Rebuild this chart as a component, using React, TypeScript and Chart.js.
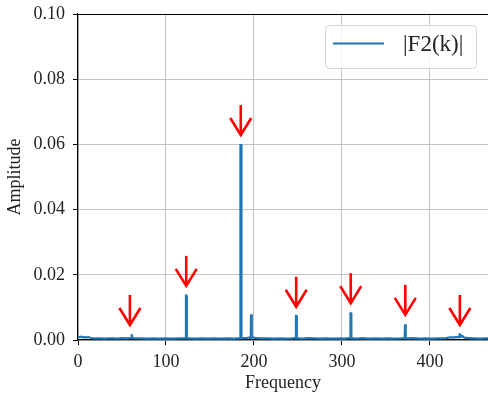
import React, { useEffect, useRef } from "react";
import { Chart, registerables } from "chart.js";

Chart.register(...registerables);

const freq: number[] = [
  0, 2, 4, 6, 8, 10, 12, 14, 16, 20, 25, 30, 35, 40, 45, 50, 55, 59,
  60.3, 60.7, 61.3, 61.7,
  63, 67, 72, 78, 85, 92, 100, 108, 115, 121,
  122.3, 122.7, 123.3, 123.7,
  126, 132, 140, 148, 155, 162, 170, 177, 182,
  184.2, 184.5, 184.8, 185.4, 185.8,
  188, 192, 195,
  196.3, 196.7, 197.3, 197.7,
  199, 203, 208, 215, 222, 230, 237, 243, 246,
  247.3, 247.7, 248.3, 248.7,
  250, 255, 262, 268, 275, 282, 290, 297, 304, 308,
  309.3, 309.7, 310.3, 310.7,
  312, 317, 323, 330, 338, 345, 352, 360, 367, 370,
  371.3, 371.7, 372.3, 372.7,
  374, 380, 388, 395, 402, 410, 418, 423, 427, 431,
  433.3, 433.7, 434.3, 434.7,
  437, 439, 444, 450, 457, 462, 466,
];
const amplitude: number[] = [
  0.001, 0.0009, 0.001, 0.0008, 0.0009, 0.0008, 0.0009, 0.0007, 0.0006, 0.0005, 0.0005, 0.0004, 0.0005, 0.0005, 0.0004,
  0.0006, 0.0005, 0.0006,
  0.0006, 0.0018, 0.0018, 0.0007,
  0.0006, 0.0005, 0.0005, 0.0004, 0.0005, 0.0004, 0.0005, 0.0004, 0.0005, 0.0005,
  0.0005, 0.0136, 0.0136, 0.0005,
  0.0005, 0.0004, 0.0005, 0.0004, 0.0005, 0.0004, 0.0005, 0.0004, 0.0005,
  0.0005, 0.046, 0.0598, 0.0598, 0.0006,
  0.0006, 0.0006, 0.0008,
  0.0006, 0.0079, 0.0079, 0.0007,
  0.0007, 0.0006, 0.0005, 0.0005, 0.0004, 0.0005, 0.0004, 0.0005, 0.0006,
  0.0005, 0.0074, 0.0074, 0.0005,
  0.0005, 0.0004, 0.0006, 0.0005, 0.0004, 0.0005, 0.0004, 0.0005, 0.0004, 0.0006,
  0.0005, 0.0082, 0.0082, 0.0005,
  0.0005, 0.0004, 0.0006, 0.0004, 0.0005, 0.0004, 0.0005, 0.0004, 0.0005, 0.0006,
  0.0005, 0.0048, 0.0048, 0.0005,
  0.0005, 0.0006, 0.0004, 0.0005, 0.0004, 0.0005, 0.0006, 0.0008, 0.0008, 0.0009,
  0.0009, 0.0017, 0.0017, 0.001,
  0.0012, 0.0007, 0.0006, 0.0005, 0.0004, 0.0005, 0.0005,
];

const arrowFreq: number[] = [59, 123, 185, 248, 310, 372, 434];
const arrowTip: number[] = [0.0046, 0.0166, 0.0629, 0.0102, 0.0113, 0.0077, 0.0046];

const seriesLabel = "|F2(k)|";
const xTitle = "Frequency";
const yTitle = "Amplitude";

const FONT = "'Liberation Serif', 'Times New Roman', serif";

const noPad = (s: any) => {
  s.paddingLeft = 0;
  s.paddingRight = 0;
  s.paddingTop = 0;
  s.paddingBottom = 0;
};

export default function App() {
  const ref = useRef<HTMLCanvasElement | null>(null);

  useEffect(() => {
    if (!ref.current) return;

    const frame = {
      id: "frame",
      afterDraw(chart: any) {
        const { ctx, chartArea } = chart;
        ctx.save();
        ctx.strokeStyle = "#000";
        ctx.lineWidth = 1.2;
        ctx.beginPath();
        ctx.moveTo(chartArea.left, chartArea.top + 0.5);
        ctx.lineTo(chartArea.right, chartArea.top + 0.5);
        ctx.stroke();
        ctx.restore();
      },
    };

    const arrows = {
      id: "arrows",
      afterDatasetsDraw(chart: any) {
        const { ctx, scales } = chart;
        ctx.save();
        ctx.strokeStyle = "#ff0000";
        ctx.lineWidth = 2.6;
        ctx.lineCap = "butt";
        ctx.lineJoin = "miter";
        arrowFreq.forEach((f, i) => {
          const x = scales.x.getPixelForValue(f);
          const y = scales.y.getPixelForValue(arrowTip[i]);
          ctx.beginPath();
          ctx.moveTo(x, y - 30);
          ctx.lineTo(x, y - 1);
          ctx.stroke();
          ctx.beginPath();
          ctx.moveTo(x - 10.5, y - 17);
          ctx.lineTo(x, y);
          ctx.lineTo(x + 10.5, y - 17);
          ctx.stroke();
        });
        ctx.restore();
      },
    };

    const legendBox = {
      id: "legendBox",
      afterDraw(chart: any) {
        const { ctx } = chart;
        const x0 = 325, y0 = 25, w = 151, h = 43, r = 4;
        ctx.save();
        ctx.fillStyle = "rgba(255,255,255,0.85)";
        ctx.strokeStyle = "#d6d6d6";
        ctx.lineWidth = 1;
        ctx.beginPath();
        ctx.roundRect(x0 + 0.5, y0 + 0.5, w, h, r);
        ctx.fill();
        ctx.stroke();
        ctx.strokeStyle = "#1f77b4";
        ctx.lineWidth = 2;
        ctx.beginPath();
        ctx.moveTo(333, 43.5);
        ctx.lineTo(384, 43.5);
        ctx.stroke();
        ctx.fillStyle = "#222";
        ctx.font = `23px ${FONT}`;
        ctx.textBaseline = "middle";
        ctx.textAlign = "left";
        ctx.fillText(seriesLabel, 403, 45);
        ctx.restore();
      },
    };

    const chart = new Chart(ref.current, {
      type: "line",
      data: {
        datasets: [
          {
            label: seriesLabel,
            data: freq.map((f, i) => ({ x: f, y: amplitude[i] })),
            borderColor: "#1f77b4",
            backgroundColor: "#1f77b4",
            borderWidth: 2.2,
            pointRadius: 0,
            tension: 0,
          },
        ],
      },
      options: {
        animation: false,
        responsive: true,
        maintainAspectRatio: false,
        layout: { padding: { top: 14, right: 0, left: 0, bottom: 0 } },
        plugins: {
          legend: { display: false },
          tooltip: { enabled: false },
        },
        scales: {
          x: {
            type: "linear",
            min: 0,
            max: 466,
            afterFit: (s: any) => {
              s.height = 54;
              noPad(s);
            },
            ticks: {
              stepSize: 100,
              color: "#222",
              font: { family: FONT, size: 18 },
              padding: 6,
              maxRotation: 0,
              callback: (v: any) => (Number(v) % 100 === 0 ? String(v) : ""),
            },
            grid: { color: "#c4c4c4", lineWidth: 1, tickColor: "#000", tickLength: 5 },
            border: { display: true, color: "#000", width: 1.2 },
            title: {
              display: true,
              text: xTitle,
              color: "#222",
              font: { family: FONT, size: 18 },
              padding: { top: 0, bottom: 0 },
            },
          },
          y: {
            min: 0,
            max: 0.1,
            afterFit: (s: any) => {
              s.width = 78;
              noPad(s);
            },
            ticks: {
              stepSize: 0.02,
              color: "#222",
              font: { family: FONT, size: 18 },
              padding: 8,
              callback: (v: any) => Number(v).toFixed(2),
            },
            grid: { color: "#c4c4c4", lineWidth: 1, tickColor: "#000", tickLength: 5 },
            border: { display: true, color: "#000", width: 1.2 },
            title: {
              display: true,
              text: yTitle,
              color: "#222",
              font: { family: FONT, size: 18 },
              padding: { top: 4, bottom: 4 },
            },
          },
        },
      },
      plugins: [frame, arrows, legendBox],
    } as any);

    return () => chart.destroy();
  }, []);

  return (
    <div style={{ position: "absolute", left: 0, top: 0, width: 488, height: 394, background: "#fff" }}>
      <canvas ref={ref} />
    </div>
  );
}
